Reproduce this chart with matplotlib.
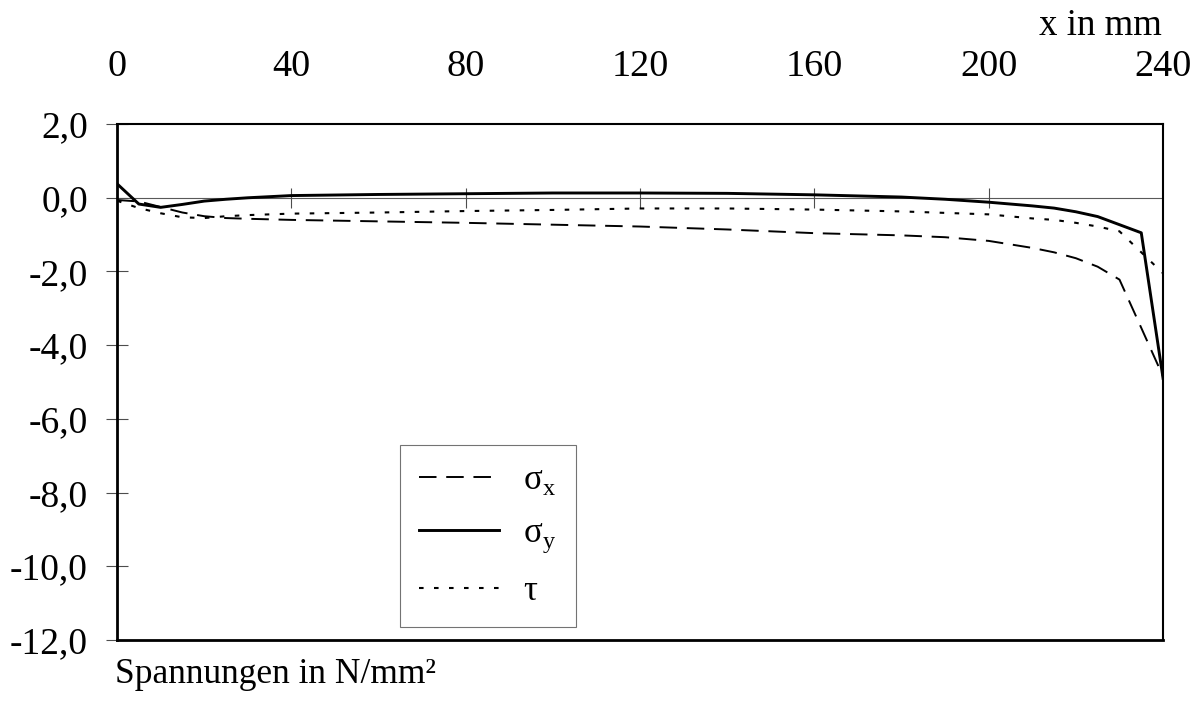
import numpy as np
import matplotlib.pyplot as plt

plt.rcParams['font.family'] = ['Liberation Serif', 'DejaVu Serif']
plt.rcParams['mathtext.fontset'] = 'custom'
plt.rcParams['mathtext.rm'] = 'Liberation Serif'
plt.rcParams['font.size'] = 25.5

# Werte (x in mm, Spannungen in N/mm²)
x_mm = [0, 5, 10, 15, 20, 25, 30, 40, 60, 80, 100, 120, 140, 160, 180,
        190, 200, 210, 215, 220, 225, 230, 235, 240]
sigma_x = [-0.06, -0.10, -0.25, -0.40, -0.50, -0.55, -0.57, -0.60, -0.64, -0.68,
           -0.73, -0.78, -0.86, -0.96, -1.02, -1.07, -1.17, -1.36, -1.48, -1.64,
           -1.87, -2.22, -3.53, -4.85]
sigma_y = [0.38, -0.17, -0.26, -0.18, -0.09, -0.04, 0.00, 0.06, 0.09, 0.11,
           0.13, 0.13, 0.12, 0.08, 0.02, -0.04, -0.12, -0.22, -0.28, -0.38,
           -0.51, -0.73, -0.95, -4.90]
tau = [-0.08, -0.28, -0.42, -0.53, -0.55, -0.50, -0.47, -0.43, -0.40, -0.36,
       -0.33, -0.29, -0.29, -0.32, -0.37, -0.41, -0.45, -0.56, -0.60, -0.68,
       -0.78, -0.91, -1.48, -2.05]

x_ticks = [0, 40, 80, 120, 160, 200, 240]
y_ticks = [2, 0, -2, -4, -6, -8, -10, -12]
y_labels = ['{:.1f}'.format(v).replace('.', ',') for v in y_ticks]

fig = plt.figure(figsize=(12.03, 7.01), dpi=100)
ax = fig.add_axes([0.0973, 0.087, 0.8695, 0.736])

# Nulllinie mit kleinen Strichen
ax.axhline(0, color='0.35', lw=0.8, zorder=1)
ax.plot(x_ticks[1:-1], np.zeros(len(x_ticks) - 2), ls='none', marker='|',
        ms=14, mew=0.8, color='0.3', zorder=1)

ax.plot(x_mm, sigma_x, color='black', lw=1.4, dashes=(9, 5), label='σ$_\\mathrm{x}$')
ax.plot(x_mm, sigma_y, color='black', lw=2.1, label='σ$_\\mathrm{y}$')
ax.plot(x_mm, tau, color='black', lw=1.5, dashes=(2.2, 5), label='τ')

ax.set_xlim(0, 240)
ax.set_ylim(-12, 2)
ax.xaxis.tick_top()
ax.set_xticks(x_ticks)
ax.tick_params(axis='x', length=0, pad=29, labelsize=27.5)
ax.set_yticks(y_ticks)
ax.set_yticklabels(y_labels)
ax.tick_params(axis='y', direction='inout', length=16, width=0.8, color='0.3',
               pad=13, labelsize=27)

ax.spines['left'].set_linewidth(2.0)
ax.spines['bottom'].set_linewidth(2.0)
ax.spines['top'].set_linewidth(1.5)
ax.spines['right'].set_linewidth(1.5)

leg = ax.legend(loc='upper left', bbox_to_anchor=(0.2706, 0.378), borderaxespad=0,
                fancybox=False, edgecolor='0.45', fontsize=25, handlelength=2.3,
                handletextpad=0.7, labelspacing=0.58, borderpad=0.55, framealpha=1)
leg.get_frame().set_linewidth(0.8)

fig.text(0.966, 0.950, 'x in mm', ha='right', va='baseline', fontsize=26.5)
fig.text(0.0956, 0.025, 'Spannungen in N/mm²', ha='left', va='baseline')

fig.savefig('out.png', dpi=100)
